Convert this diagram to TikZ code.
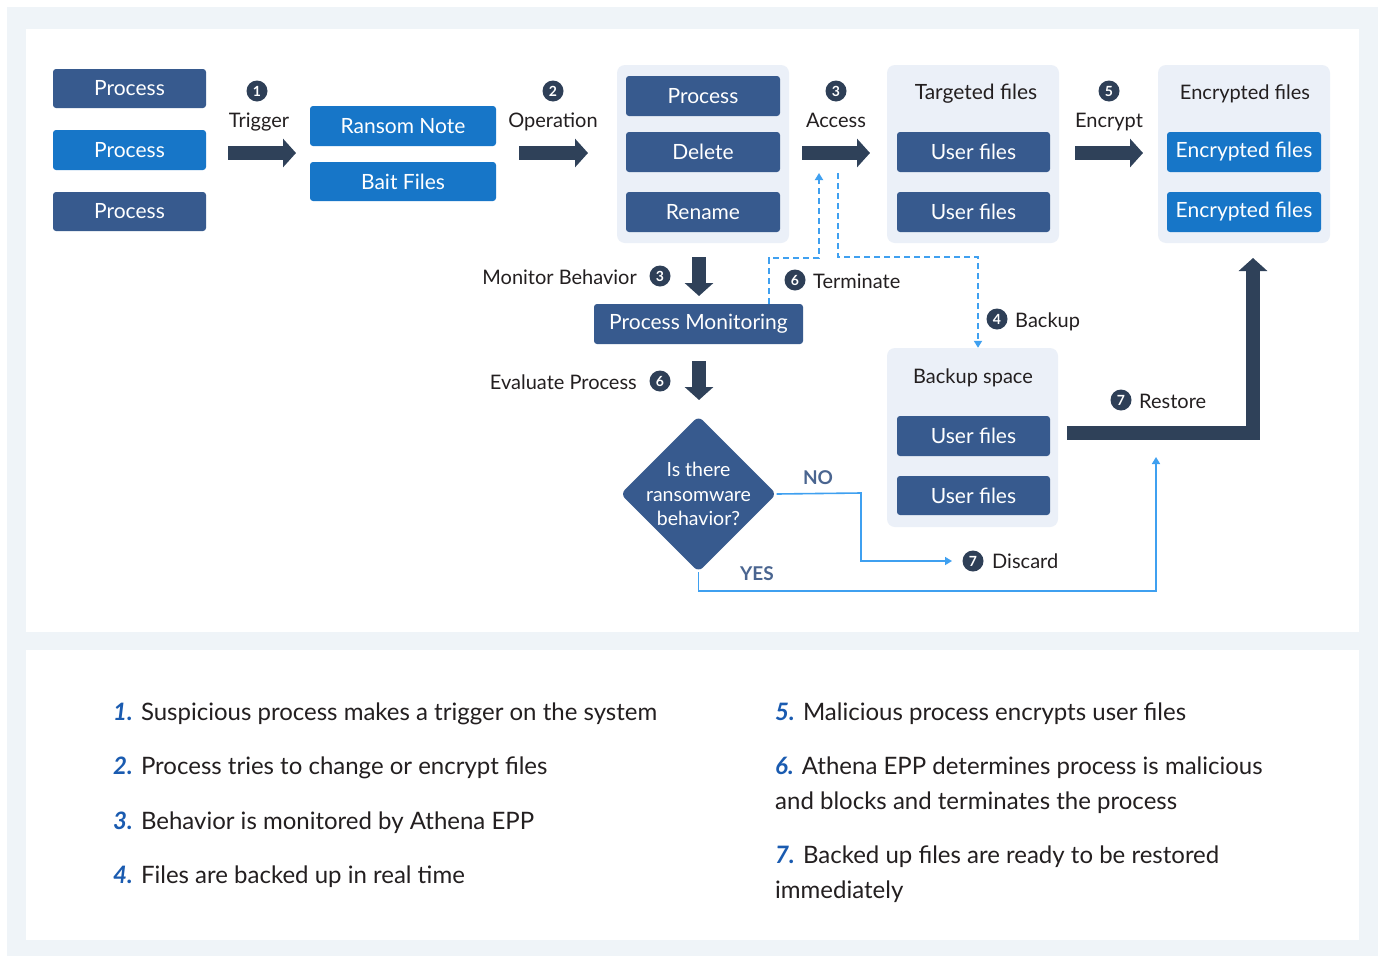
\documentclass[tikz,border=0pt]{standalone}
\usepackage{fontspec}
\setmainfont{Lato}
\usetikzlibrary{arrows.meta,shapes.geometric}
\definecolor{outerbg}{HTML}{EFF4F8}
\definecolor{grpc}{HTML}{EBF0F8}
\definecolor{darkc}{HTML}{375A8E}
\definecolor{brightc}{HTML}{1776C8}
\definecolor{arrc}{HTML}{2F4159}
\definecolor{badgec}{HTML}{2E3F57}
\definecolor{linec}{HTML}{3FA0F0}
\definecolor{txtc}{HTML}{231F20}
\definecolor{numc}{HTML}{1A5BB0}
\definecolor{yesc}{HTML}{4A6590}
\begin{document}
\begin{tikzpicture}[x=1pt,y=-1pt,
  boxbase/.style={rectangle, rounded corners=3pt, text=white, inner sep=0pt,
    minimum height=40pt, font=\fontsize{21}{24}\selectfont},
  dbox/.style={boxbase, fill=darkc},
  bbox/.style={boxbase, fill=brightc},
  grp/.style={rectangle, rounded corners=8pt, fill=grpc, inner sep=0pt},
  badge/.style={circle, fill=badgec, text=white, inner sep=0pt, minimum size=21pt,
    font=\fontsize{14}{14}\selectfont\bfseries},
  lbl/.style={text=txtc, inner sep=0pt, font=\fontsize{20}{24}\selectfont},
  fat/.style={draw=arrc, line width=14pt, line join=miter, -{Triangle[width=28pt,length=13pt]}},
  dsh/.style={draw=linec, line width=1.8pt, dash pattern=on 6pt off 4pt, -{Triangle[width=8pt,length=7pt]}},
  sol/.style={draw=linec, line width=1.6pt, -{Triangle[width=8pt,length=7pt]}},
  note/.style={text=txtc, inner sep=0pt, anchor=base west, font=\fontsize{24}{28}\selectfont}
]
\useasboundingbox (0,0) rectangle (1385,956);
\fill[white] (0,0) rectangle (1385,956);
\fill[outerbg] (7,7) rectangle (1378,956);
\fill[white] (26,29) rectangle (1359,632);
\fill[white] (26,650) rectangle (1359,940);

% groups
\node[grp, minimum width=172pt, minimum height=178pt] (g1) at (703,154) {};
\node[grp, minimum width=172pt, minimum height=178pt] (g2) at (973,154) {};
\node[grp, minimum width=172pt, minimum height=178pt] (g3) at (1244,154) {};
\node[grp, minimum width=171pt, minimum height=179pt] (g4) at (972.5,437.5) {};

% left process boxes
\node[dbox, minimum width=153pt, minimum height=39pt] (p1) at (129.5,88.5) {Process};
\node[bbox, minimum width=153pt] (p2) at (129.5,150) {Process};
\node[dbox, minimum width=153pt, minimum height=39pt] (p3) at (129.5,211.5) {Process};

\node[bbox, minimum width=186pt] (rn) at (403,126) {Ransom Note};
\node[bbox, minimum width=186pt, minimum height=39pt] (bf) at (403,181.5) {Bait Files};

\node[dbox, minimum width=154pt] (o1) at (703,96) {Process};
\node[dbox, minimum width=154pt] (o2) at (703,152) {Delete};
\node[dbox, minimum width=154pt] (o3) at (703,212) {Rename};

\node[lbl, font=\fontsize{21}{24}\selectfont] (t2) at (976,94) {Targeted files};
\node[dbox, minimum width=153pt] (u1) at (973.5,152) {User files};
\node[dbox, minimum width=153pt] (u2) at (973.5,212) {User files};

\node[lbl] (t3) at (1245,94) {Encrypted files};
\node[bbox, minimum width=154pt] (e1) at (1244,152) {Encrypted files};
\node[bbox, minimum width=154pt] (e2) at (1244,212) {Encrypted files};

\node[lbl] (t4) at (973,378) {Backup space};
\node[dbox, minimum width=153pt] (k1) at (973.5,436) {User files};
\node[dbox, minimum width=153pt, minimum height=39pt] (k2) at (973.5,495.5) {User files};

\node[dbox, minimum width=209pt] (pm) at (698.5,324) {Process Monitoring};

\node[diamond, aspect=1, fill=darkc, rounded corners=6pt, inner sep=0pt,
  minimum width=156pt, minimum height=156pt,
  label={[text=white, align=center, font=\fontsize{19.5}{24.5}\selectfont]center:Is there\\ransomware\\behavior?}] (dia) at (698.5,494) {};

% step labels
\node[badge] (b1) at (257,91) {1};
\node[lbl, anchor=base] (l1) at (259,127) {Trigger};
\node[badge] (b2) at (553,91) {2};
\node[lbl, anchor=base] (l2) at (553,127) {Operation};
\node[badge] (b3) at (836,91) {3};
\node[lbl, anchor=base] (l3) at (836,127) {Access};
\node[badge] (b5) at (1109,91) {5};
\node[lbl, anchor=base] (l5) at (1109,127) {Encrypt};

\node[badge] (bm) at (660,276) {3};
\node[lbl, anchor=base east] (lm) at (637,284) {Monitor Behavior};
\node[badge] (be) at (660,381) {6};
\node[lbl, anchor=base east] (le) at (637,389) {Evaluate Process};
\node[badge] (bt) at (795,280) {6};
\node[lbl, anchor=base west] (lt) at (813,288) {Terminate};
\node[badge] (bb) at (997,319) {4};
\node[lbl, anchor=base west] (lb) at (1015,327) {Backup};
\node[badge] (br) at (1121,400) {7};
\node[lbl, anchor=base west] (lr) at (1139,408) {Restore};
\node[badge] (bd) at (973,561) {7};
\node[lbl, anchor=base west] (ld) at (992,568) {Discard};

\node[text=yesc, inner sep=0pt, font=\fontsize{19}{20}\selectfont\bfseries] (no) at (818,478) {NO};
\node[text=yesc, inner sep=0pt, font=\fontsize{19}{20}\selectfont\bfseries] (yes) at (757,574) {YES};

% fat arrows
\coordinate (a1s) at (228,153); \coordinate (a1e) at (296,153);
\coordinate (a2s) at (519,153); \coordinate (a2e) at (588,153);
\coordinate (a3s) at (802,153); \coordinate (a3e) at (870,153);
\coordinate (a5s) at (1075,153); \coordinate (a5e) at (1143,153);
\draw[fat] (a1s) -- (a1e);
\draw[fat] (a2s) -- (a2e);
\draw[fat] (a3s) -- (a3e);
\draw[fat] (a5s) -- (a5e);
\coordinate (dm1) at (699,257); \coordinate (dm2) at (699,296);
\draw[fat] (dm1) -- (dm2);
\coordinate (de1) at (699,361); \coordinate (de2) at (699,400);
\draw[fat] (de1) -- (de2);
\coordinate (rs) at (1067,433); \coordinate (rc) at (1253,433); \coordinate (re) at (1253,258);
\draw[fat] (rs) -- (rc) -- (re);

% dashed terminate / backup
\coordinate (tc1) at (769,258); \coordinate (tc2) at (819,258); \coordinate (tc3) at (819,173);
\draw[dsh] (tc1 |- pm.north) -- (tc1) -- (tc2) -- (tc3);
\coordinate (kc1) at (838,173); \coordinate (kc2) at (838,257); \coordinate (kc3) at (978,257);
\draw[dsh] (kc1) -- (kc2) -- (kc3) -- (kc3 |- g4.north);

% decision lines
\coordinate (nc1) at (861,493); \coordinate (nc2) at (861,561); \coordinate (nc3) at (952,561);
\draw[sol] (dia.east) -- (nc1) -- (nc2) -- (nc3);
\coordinate (yc1) at (698.5,591); \coordinate (yc2) at (1156,591); \coordinate (yc3) at (1156,457);
\draw[sol] (dia.south) -- (yc1) -- (yc2) -- (yc3);

% notes
\node[note] (n1) at (113,720) {\textcolor{numc}{\bfseries\itshape 1.} Suspicious process makes a trigger on the system};
\node[note] (n2) at (113,774) {\textcolor{numc}{\bfseries\itshape 2.} Process tries to change or encrypt files};
\node[note] (n3) at (113,829) {\textcolor{numc}{\bfseries\itshape 3.} Behavior is monitored by Athena EPP};
\node[note] (n4) at (113,883) {\textcolor{numc}{\bfseries\itshape 4.} Files are backed up in real time};
\node[note] (n5) at (775,720) {\textcolor{numc}{\bfseries\itshape 5.} Malicious process encrypts user files};
\node[note] (n6) at (775,774) {\textcolor{numc}{\bfseries\itshape 6.} Athena EPP determines process is malicious};
\node[note] (n6b) at (775,809) {and blocks and terminates the process};
\node[note] (n7) at (775,863) {\textcolor{numc}{\bfseries\itshape 7.} Backed up files are ready to be restored};
\node[note] (n7b) at (775,898) {immediately};
\end{tikzpicture}
\end{document}
